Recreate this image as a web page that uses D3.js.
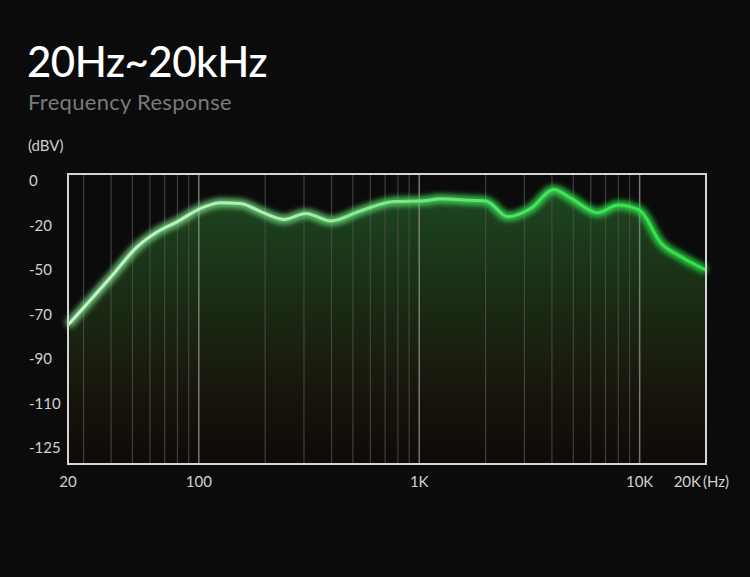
<!DOCTYPE html>
<html>
<head>
<meta charset="utf-8">
<script src="https://cdn.jsdelivr.net/npm/d3@7"></script>
<style>
  html, body { margin: 0; padding: 0; background: #0b0b0b; }
  svg { display: block; }
</style>
</head>
<body>
<svg id="chart" width="750" height="577"></svg>
<script>
// ---- data ----
const freqHz = [25.5, 40, 52.6, 64.9, 80, 102, 125.7, 155, 191, 244, 306, 397, 543, 770, 1054, 1254, 1660, 2009, 2520, 3215, 4077, 4886, 6460, 7961, 9977, 12520, 15420, 20000];
const levelDbv = [-74.9, -53.2, -34.5, -24.4, -18.4, -12.4, -9.9, -10.2, -13.9, -17.4, -14.7, -18.1, -13.5, -9.4, -9.0, -8.1, -8.8, -9.1, -16.2, -12.4, -3.9, -7.9, -14.4, -10.9, -13.2, -32.2, -41.3, -50.2];
const yTickValues = [0, -20, -50, -70, -90, -110, -125];
const xTickValues = [25.5, 100, 1000, 10000, 20000];
const xTickLabels = ["20", "100", "1K", "10K", "20K"];
const gridHz = [30, 40, 50, 60, 70, 80, 90, 100, 200, 300, 400, 500, 600, 700, 800, 900, 1000, 2000, 3000, 4000, 5000, 6000, 7000, 8000, 9000, 10000];
const majorHz = [100, 1000, 10000];

const svg = d3.select("#chart");
const W = 750, H = 577;
const frame = { left: 68, right: 706, top: 174, bottom: 464 };
const FONT = "Lato, 'Noto Sans', sans-serif";

svg.append("rect").attr("width", W).attr("height", H).attr("fill", "#0b0b0b");

// scales
const x = d3.scaleLog().domain([25.5, 20000]).range([frame.left, frame.right]);
const yStep = 44.5, y0 = 180.7;
const y = d3.scaleLinear()
  .domain(yTickValues)
  .range(yTickValues.map((d, i) => y0 + i * yStep));

// defs
const defs = svg.append("defs");
const areaGrad = defs.append("linearGradient").attr("id", "areaGrad")
  .attr("gradientUnits", "userSpaceOnUse").attr("x1", 0).attr("x2", 0)
  .attr("y1", 185).attr("y2", frame.bottom);
[[0, "#1e4821"], [0.3, "#1a3317"], [0.55, "#1a2310"], [0.78, "#17130b"], [1, "#0e0b08"]]
  .forEach(([o, c]) => areaGrad.append("stop").attr("offset", o).attr("stop-color", c));

const lineGrad = defs.append("linearGradient").attr("id", "lineGrad")
  .attr("gradientUnits", "userSpaceOnUse").attr("x1", frame.left).attr("x2", frame.right)
  .attr("y1", 0).attr("y2", 0);
[[0, "#c4f5c8"], [0.3, "#b0f0b6"], [0.55, "#6fea7e"], [0.75, "#45e35a"], [1, "#2fe24a"]]
  .forEach(([o, c]) => lineGrad.append("stop").attr("offset", o).attr("stop-color", c));

const glowGrad = defs.append("linearGradient").attr("id", "glowGrad")
  .attr("gradientUnits", "userSpaceOnUse").attr("x1", frame.left).attr("x2", frame.right)
  .attr("y1", 0).attr("y2", 0);
[[0, "#7fd98a"], [0.4, "#6cd67a"], [0.65, "#3fdc55"], [1, "#2bd945"]]
  .forEach(([o, c]) => glowGrad.append("stop").attr("offset", o).attr("stop-color", c));

const glow = defs.append("filter").attr("id", "glow")
  .attr("x", "-10%").attr("y", "-50%").attr("width", "120%").attr("height", "200%");
glow.append("feGaussianBlur").attr("in", "SourceGraphic").attr("stdDeviation", 3.2).attr("result", "b");
const mg = glow.append("feMerge");
mg.append("feMergeNode").attr("in", "b");
mg.append("feMergeNode").attr("in", "b");

const pts = freqHz.map((f, i) => [f, levelDbv[i]]);

// area
const area = d3.area().curve(d3.curveMonotoneX)
  .x(d => x(d[0])).y0(frame.bottom).y1(d => y(d[1]));
svg.append("path").datum(pts).attr("d", area).attr("fill", "url(#areaGrad)");

// grid lines
svg.append("g").selectAll("line").data(gridHz).join("line")
  .attr("x1", d => x(d)).attr("x2", d => x(d))
  .attr("y1", frame.top).attr("y2", frame.bottom)
  .attr("stroke", d => majorHz.includes(d) ? "#8a8a8a" : "#505050")
  .attr("stroke-opacity", d => majorHz.includes(d) ? 0.85 : 0.75)
  .attr("stroke-width", d => majorHz.includes(d) ? 1.5 : 1.2);

// line
const line = d3.line().curve(d3.curveMonotoneX).x(d => x(d[0])).y(d => y(d[1]));
svg.append("path").datum(pts).attr("d", line)
  .attr("fill", "none").attr("stroke", "url(#glowGrad)").attr("stroke-width", 6)
  .attr("stroke-opacity", 0.8).attr("filter", "url(#glow)");
svg.append("path").datum(pts).attr("d", line)
  .attr("fill", "none").attr("stroke", "url(#lineGrad)").attr("stroke-width", 3)
  .attr("stroke-linejoin", "round");

// frame
svg.append("rect")
  .attr("x", frame.left).attr("y", frame.top)
  .attr("width", frame.right - frame.left).attr("height", frame.bottom - frame.top)
  .attr("fill", "none").attr("stroke", "#d4d4d4").attr("stroke-width", 2);

// y labels
svg.append("g").selectAll("text").data(yTickValues).join("text")
  .attr("x", 29).attr("y", d => y(d)).attr("dy", "0.36em")
  .attr("fill", "#d2d2d2").attr("font-family", FONT)
  .attr("font-size", 15).text(d => d === 0 ? "0" : String(d));

// x labels
svg.append("g").selectAll("text").data(xTickValues).join("text")
  .attr("x", (d, i) => i === 4 ? 701 : x(d))
  .attr("y", 482).attr("dy", "0.36em")
  .attr("text-anchor", (d, i) => i === 4 ? "end" : "middle")
  .attr("fill", "#d2d2d2").attr("font-family", FONT)
  .attr("font-size", 15).text((d, i) => xTickLabels[i]);
svg.append("text").attr("x", 703).attr("y", 482).attr("dy", "0.36em")
  .attr("fill", "#d2d2d2").attr("font-family", FONT)
  .attr("font-size", 15).text("(Hz)");

// titles
svg.append("text").attr("x", 27).attr("y", 77)
  .attr("fill", "#ffffff").attr("font-family", FONT)
  .attr("font-weight", 500).attr("font-size", 42).attr("letter-spacing", -0.5)
  .text("20Hz~20kHz");
svg.append("text").attr("x", 28).attr("y", 110)
  .attr("fill", "#7a7a7a").attr("font-family", FONT)
  .attr("font-size", 22).attr("letter-spacing", 0.3).text("Frequency Response");
svg.append("text").attr("x", 28).attr("y", 151)
  .attr("fill", "#cfcfcf").attr("font-family", FONT)
  .attr("font-size", 15).text("(dBV)");
</script>
</body>
</html>
